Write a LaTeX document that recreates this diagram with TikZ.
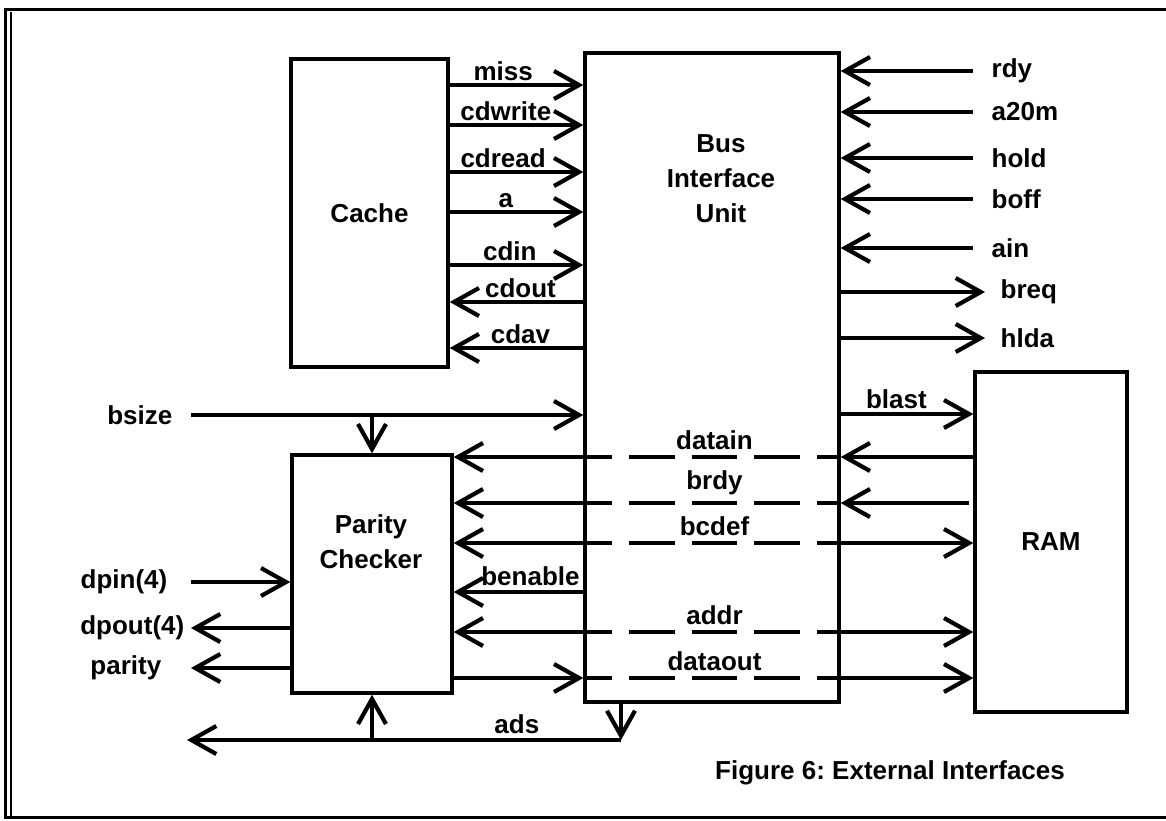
\documentclass[tikz,border=0pt]{standalone}
\usepackage{fontspec}
\setmainfont{Liberation Sans}
\usetikzlibrary{arrows.meta,positioning}
\frenchspacing

\begin{document}
\begin{tikzpicture}[
    x=1pt, y=-1pt,
    >={Straight Barb[length=25pt,width=28pt,line width=4.2pt]},
    txt/.style={font=\bfseries\fontsize{26}{35}\selectfont, inner sep=2pt},
    box/.style={draw, line width=3.4pt, txt},
    wire/.style={line width=3.4pt},
    bus/.style={line width=3.4pt, dash pattern=on 45.7pt off 17pt, dash phase=45.7pt}
]
    \useasboundingbox (0,0) rectangle (1166,820);
    % frame
    \draw[line width=3pt] (1180,9) -- (5,9) -- (5,817) -- (1180,817);
    \draw[line width=2pt] (10.5,12) -- (10.5,817);

    % blocks
    \node[box, minimum width=157pt, minimum height=308pt] (cache) at (369.5,213) {Cache};
    \node[box, minimum width=254pt, minimum height=649pt] (biu) at (712,377.5) {};
    \node[txt, align=center] (biutxt) at (721,179) {Bus\\Interface\\Unit};
    \node[box, minimum width=160pt, minimum height=238pt] (parity) at (372,574) {};
    \node[txt, align=center] (paritytxt) at (371,542) {Parity\\Checker};
    \node[box, minimum width=152pt, minimum height=340pt] (ram) at (1051,542) {RAM};

    % cache <-> bus interface
    \foreach \y/\s/\p in {85/miss/.4, 125/cdwrite/.42, 172/cdread/.4, 212/a/.42, 265/cdin/.45}
        \draw[wire,->] (cache.east |- 0,\y) -- node[txt, above=1pt, pos=\p]{\s} (biu.west |- 0,\y);
    \foreach \y/\s in {302/cdout, 348/cdav}
        \draw[wire,->] (biu.west |- 0,\y) -- node[txt, above=1pt, pos=.47]{\s} (cache.east |- 0,\y);

    % outside signals, right
    \foreach \y/\s in {71/rdy, 112/a20m, 158/hold, 199/boff, 248/ain} {
        \coordinate (\s) at (973,\y);
        \draw[wire,->] (\s) node[txt, right=15pt]{\s} -- (biu.east |- \s);
    }
    \foreach \y/\s in {292/breq, 338/hlda} {
        \coordinate (\s) at (985,\y);
        \draw[wire,->] (biu.east |- \s) -- (\s) node[txt, right=12pt]{\s};
    }
    \draw[wire,->] (biu.east |- 0,414) -- node[txt, above=2pt, pos=.42]{blast} (ram.west |- 0,414);

    % outside signals, left
    \coordinate (bsize) at (191,415);
    \draw[wire,->] (bsize) node[txt, left=15pt]{bsize} -- (biu.west |- bsize);
    \draw[wire,->] (parity.north |- bsize) -- (parity.north);
    \coordinate (dpin) at (191,582);
    \draw[wire,->] (dpin) node[txt, left=20pt]{dpin(4)} -- (parity.west |- dpin);
    \coordinate (dpout) at (191,628);
    \draw[wire,->] (parity.west |- dpout) -- (dpout) node[txt, left=3pt]{dpout(4)};
    \coordinate (parout) at (191,668);
    \draw[wire,->] (parity.west |- parout) -- (parout) node[txt, left=26pt]{parity};

    % bus lines through the bus interface
    \coordinate (dl) at (612,0);
    \coordinate (dr) at (817,0);
    \foreach \y/\s in {457/datain, 503/brdy, 543/bcdef, 632/addr, 678/dataout}
        \draw[bus] (dl |- 0,\y) -- node[txt, above=4pt]{\s} (dr |- 0,\y);

    \draw[wire,->] (ram.west |- 0,457) -- (biu.east |- 0,457);
    \draw[wire] (biu.east |- 0,457) -- (dr |- 0,457);
    \draw[wire,->] (dl |- 0,457) -- (parity.east |- 0,457);

    \coordinate (brdy) at (969,503);
    \draw[wire,->] (brdy) -- (biu.east |- brdy);
    \draw[wire] (biu.east |- brdy) -- (dr |- brdy);
    \draw[wire,->] (dl |- brdy) -- (parity.east |- brdy);

    \draw[wire,->] (dr |- 0,543) -- (ram.west |- 0,543);
    \draw[wire,->] (dl |- 0,543) -- (parity.east |- 0,543);

    \draw[wire,->] (biu.west |- 0,592) node[txt, above left=3pt and 0pt]{benable} -- (parity.east |- 0,592);

    \draw[wire,->] (dr |- 0,632) -- (ram.west |- 0,632);
    \draw[wire,->] (dl |- 0,632) -- (parity.east |- 0,632);

    \draw[wire,->] (parity.east |- 0,678) -- (biu.west |- 0,678);
    \draw[wire] (biu.west |- 0,678) -- (dl |- 0,678);
    \draw[wire,->] (dr |- 0,678) -- (ram.west |- 0,678);

    % ads
    \coordinate (ads) at (621,740);
    \coordinate (adsend) at (187,740);
    \draw[wire,->] (ads |- biu.south) -- (ads);
    \draw[wire,->] (ads) -- node[txt, above=3pt, pos=.24]{ads} (adsend);
    \draw[wire,->] (parity.south |- ads) -- (parity.south);

    \node[txt, anchor=west] (caption) at (713,773) {Figure 6: External Interfaces};
\end{tikzpicture}
\end{document}
